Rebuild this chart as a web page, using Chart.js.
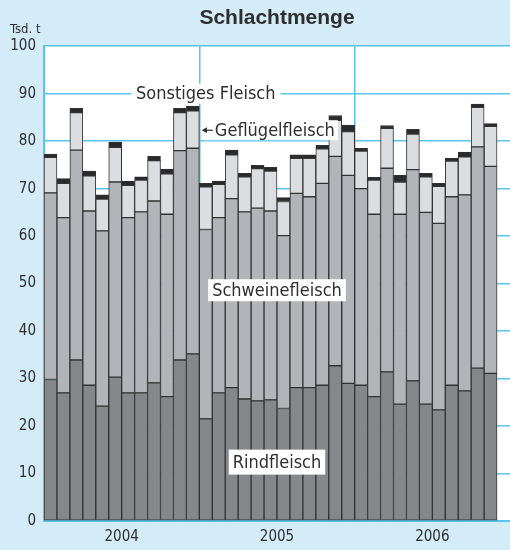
<!DOCTYPE html>
<html>
<head>
<meta charset="utf-8">
<title>Schlachtmenge</title>
<script src="https://cdn.jsdelivr.net/npm/chart.js@4"></script>
<style>
  html, body { margin: 0; padding: 0; background: #d4ebf8; }
  #wrap { width: 510px; height: 550px; }
</style>
</head>
<body>
<div id="wrap"><canvas id="c" width="510" height="550"></canvas></div>
<script>
// Monthly slaughter output in thousand tonnes, Jan 2004 – Nov 2006
const years = ['2004', '2005', '2006'];
const months = ['Jan', 'Feb', 'Mär', 'Apr', 'Mai', 'Jun', 'Jul', 'Aug', 'Sep', 'Okt', 'Nov', 'Dez'];
const categories = years.flatMap(y => months.map(m => m + ' ' + y));

const rindfleisch = [29.8, 27.0, 33.9, 28.6, 24.2, 30.3, 27.0, 27.0, 29.1, 26.2, 33.9, 35.2,
                     21.5, 27.0, 28.1, 25.7, 25.3, 25.5, 23.7, 28.1, 28.1, 28.6, 32.7, 29.0,
                     28.6, 26.2, 31.4, 24.6, 29.5, 24.6, 23.4, 28.6, 27.4, 32.2, 31.1];
const schweinefleisch = [39.3, 36.9, 44.2, 36.7, 36.9, 41.1, 36.9, 38.1, 38.3, 38.4, 44.1, 43.3,
                         39.9, 36.9, 39.8, 39.4, 40.6, 39.8, 36.4, 40.9, 40.2, 42.5, 44.1, 43.8,
                         41.4, 38.4, 42.9, 40.0, 44.5, 40.4, 39.3, 39.7, 41.3, 46.6, 43.6];
const gefluegelfleisch = [7.5, 7.2, 7.9, 7.4, 6.7, 7.3, 6.8, 6.7, 8.5, 8.5, 8.0, 7.9,
                          9.0, 7.0, 9.2, 7.4, 8.3, 8.4, 7.2, 7.4, 8.1, 7.3, 7.6, 9.2,
                          7.9, 7.2, 8.4, 6.8, 7.5, 7.5, 7.8, 7.5, 8.0, 8.3, 8.4];
const sonstigesFleisch = [0.7, 1.0, 0.9, 1.0, 0.9, 1.1, 0.9, 0.7, 0.9, 1.0, 0.9, 1.0,
                          0.7, 0.7, 1.0, 0.7, 0.7, 0.8, 0.8, 0.7, 0.7, 0.7, 1.0, 1.4,
                          0.6, 0.6, 0.6, 1.4, 1.0, 0.7, 0.6, 0.6, 1.0, 0.7, 0.6];

// Year labels sit in the middle of each twelve-month block
const yearTicks = [6, 18, 30];
const yearBounds = [12, 24];
const yTicks = [0, 10, 20, 30, 40, 50, 60, 70, 80, 90, 100];

const BG = '#d4ebf8';
const GRID = '#58c4ef';
const INK = '#2e2e2e';
const EDGE = '#333333';
const NARROW = "'Liberation Sans Narrow', 'DejaVu Sans Condensed', 'Liberation Sans', sans-serif";

function barSet(label, data, color) {
  return {
    label, data,
    backgroundColor: color,
    borderColor: EDGE,
    borderWidth: 1,
    borderSkipped: false,
    barPercentage: 1,
    categoryPercentage: 1,
    stack: 'fleisch'
  };
}

const backdrop = {
  id: 'backdrop',
  beforeDraw(chart) {
    const { ctx, chartArea: a } = chart;
    ctx.save();
    ctx.fillStyle = BG;
    ctx.fillRect(0, 0, chart.width, chart.height);
    ctx.fillStyle = '#ffffff';
    ctx.fillRect(a.left, a.top, a.right - a.left, a.bottom - a.top);
    ctx.restore();
  }
};

function boxedText(ctx, text, cx, cy, padX, boxH) {
  const w = ctx.measureText(text).width;
  ctx.fillStyle = '#ffffff';
  ctx.fillRect(cx - w / 2 - padX, cy - boxH / 2, w + padX * 2, boxH);
  ctx.fillStyle = INK;
  ctx.fillText(text, cx, cy + 1);
}

const seriesLabels = {
  id: 'seriesLabels',
  afterDatasetsDraw(chart) {
    const { ctx } = chart;
    const xs = chart.scales.yr, ys = chart.scales.y;
    ctx.save();
    ctx.textBaseline = 'middle';
    ctx.textAlign = 'center';
    ctx.font = '18px ' + NARROW;

    boxedText(ctx, 'Sonstiges Fleisch', xs.getPixelForValue(12.5), ys.getPixelForValue(90), 5, 20);
    boxedText(ctx, 'Schweinefleisch', xs.getPixelForValue(18), ys.getPixelForValue(48.6), 4, 22);
    boxedText(ctx, 'Rindfleisch', xs.getPixelForValue(18), ys.getPixelForValue(12.4), 4, 25);

    // Poultry label with a pointer towards the poultry segment
    const gy = ys.getPixelForValue(82.3);
    const gx = xs.getPixelForValue(13.2);
    ctx.textAlign = 'left';
    const gw = ctx.measureText('Geflügelfleisch').width;
    ctx.fillStyle = '#ffffff';
    ctx.fillRect(gx - 13, gy - 10, gw + 16, 20);
    ctx.fillStyle = INK;
    ctx.fillText('Geflügelfleisch', gx, gy + 1);
    const tip = xs.getPixelForValue(12.2);
    ctx.strokeStyle = INK;
    ctx.lineWidth = 1.2;
    ctx.beginPath();
    ctx.moveTo(tip + 1, gy);
    ctx.lineTo(gx - 2, gy);
    ctx.stroke();
    ctx.beginPath();
    ctx.moveTo(tip, gy);
    ctx.lineTo(tip + 5, gy - 3);
    ctx.lineTo(tip + 5, gy + 3);
    ctx.closePath();
    ctx.fill();

    // Unit above the value axis
    ctx.font = '13px ' + NARROW;
    ctx.textAlign = 'left';
    ctx.fillText('Tsd. t', 10, 30);
    ctx.restore();
  }
};

new Chart(document.getElementById('c'), {
  type: 'bar',
  data: {
    labels: categories,
    datasets: [
      barSet('Rindfleisch', rindfleisch, '#86878b'),
      barSet('Schweinefleisch', schweinefleisch, '#b3b4b9'),
      barSet('Geflügelfleisch', gefluegelfleisch, '#dcdde1'),
      barSet('Sonstiges Fleisch', sonstigesFleisch, '#2b2a2a')
    ]
  },
  options: {
    responsive: false,
    animation: false,
    events: [],
    layout: { padding: { left: 0, right: 0, top: 0, bottom: 0 } },
    plugins: {
      legend: { display: false },
      tooltip: { enabled: false },
      title: {
        display: true,
        text: 'Schlachtmenge',
        fullSize: false,
        color: INK,
        font: { family: "'Liberation Sans', Arial, sans-serif", size: 21, weight: 'bold' },
        padding: { top: 6, bottom: 15 }
      }
    },
    scales: {
      x: {
        display: false,
        stacked: true
      },
      yr: {
        type: 'linear',
        position: 'bottom',
        offset: false,
        min: 0,
        max: 36,
        afterBuildTicks(scale) {
          scale.ticks = [0, ...yearBounds, ...yearTicks, 36].sort((a, b) => a - b).map(v => ({ value: v }));
        },
        afterFit(scale) {
          scale.height = 29;
          scale.paddingLeft = 0;
          scale.paddingRight = 0;
        },
        ticks: {
          autoSkip: false,
          maxRotation: 0,
          padding: 7,
          color: INK,
          font: { family: NARROW, size: 15 },
          callback(v) {
            const i = yearTicks.indexOf(v);
            return i >= 0 ? years[i] : '';
          }
        },
        grid: {
          offset: false,
          drawTicks: false,
          lineWidth: 1.5,
          color: c => yearBounds.includes(c.tick && c.tick.value) ? GRID : 'rgba(0,0,0,0)'
        },
        border: { color: GRID, width: 2 }
      },
      y: {
        stacked: true,
        min: 0,
        max: 100,
        afterBuildTicks(scale) {
          scale.ticks = yTicks.map(v => ({ value: v }));
        },
        afterFit(scale) { scale.width = 44; },
        ticks: {
          padding: 8,
          color: INK,
          font: { family: NARROW, size: 15 }
        },
        grid: { drawTicks: false, color: GRID, lineWidth: 1.5 },
        border: { color: GRID, width: 2 }
      }
    }
  },
  plugins: [backdrop, seriesLabels]
});
</script>
</body>
</html>
